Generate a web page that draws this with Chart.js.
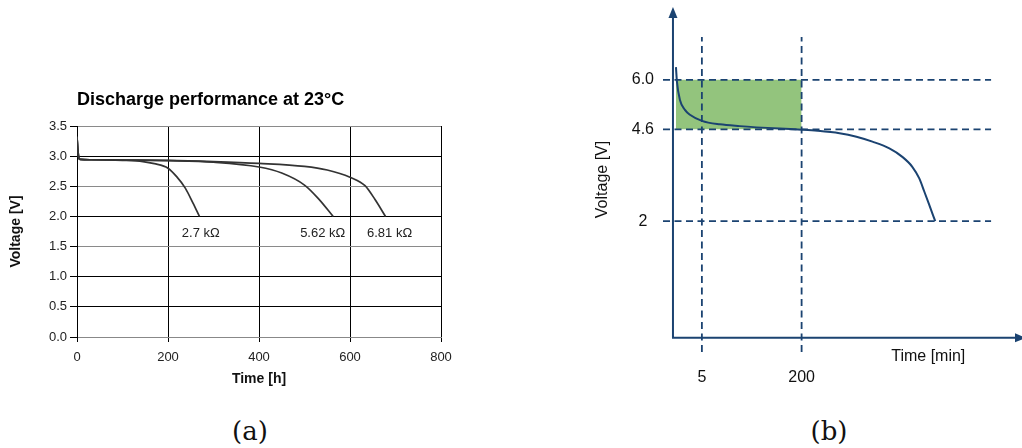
<!DOCTYPE html>
<html>
<head>
<meta charset="utf-8">
<script src="https://cdn.jsdelivr.net/npm/chart.js@4"></script>
<style>
  body { margin: 0; background: #fff; width: 1022px; height: 448px; position: relative; overflow: hidden; }
  .box { position: absolute; top: 0; height: 400px; }
  .cap { position: absolute; top: 416px; font-family: "DejaVu Serif", serif; font-size: 26px; color: #111; transform: translateX(-50%); }
</style>
</head>
<body>
<div class="box" style="left:0;width:480px"><canvas id="chart-a"></canvas></div>
<div class="box" style="left:560px;width:462px"><canvas id="chart-b"></canvas></div>
<div class="cap" style="left:250px">(a)</div>
<div class="cap" style="left:829px">(b)</div>
<script>
// (a) discharge curves, time in h, voltage in V
const time27 = [0, 2, 4, 7, 30, 100, 145, 170, 200, 219, 238, 255, 269]
const volt27 = [3.32, 3.1, 2.97, 2.945, 2.94, 2.93, 2.91, 2.875, 2.80, 2.66, 2.47, 2.22, 2.0]
const time562 = [0, 2, 4, 7, 30, 100, 200, 300, 400, 450, 500, 530, 563]
const volt562 = [3.32, 3.1, 2.97, 2.945, 2.94, 2.935, 2.925, 2.90, 2.82, 2.72, 2.52, 2.30, 2.0]
const time681 = [0, 2, 4, 7, 30, 100, 200, 300, 400, 500, 550, 600, 633, 655, 678]
const volt681 = [3.32, 3.1, 2.97, 2.945, 2.94, 2.935, 2.93, 2.91, 2.88, 2.83, 2.77, 2.65, 2.51, 2.28, 2.0]
const curveNames = ['2.7 kΩ', '5.62 kΩ', '6.81 kΩ']
const nameAt = [[272, 1.72], [540, 1.72], [687, 1.72]]

// (b) schematic, x in arbitrary units along the time axis
const schemT = [3, 4, 7, 12, 17, 29, 47, 67, 107, 129, 145, 167, 184, 200, 217, 230, 240, 247, 252, 257, 263]
const schemV = [6.36, 5.94, 5.43, 5.15, 5.01, 4.84, 4.74, 4.69, 4.62, 4.59, 4.56, 4.49, 4.39, 4.25, 4.06, 3.82, 3.54, 3.21, 2.84, 2.46, 2.0]
const levelV = [6.0, 4.6, 2]
const levelLabels = ['6.0', '4.6', '2']
const markT = [29, 129]
const markLabels = ['5', '200']

const navy = '#1b4371'
const pts = (xs, ys) => xs.map((x, i) => ({ x: x, y: ys[i] }))

const curveStyle = {
  borderColor: '#333',
  borderWidth: 1.7,
  pointRadius: 0,
  cubicInterpolationMode: 'monotone',
  fill: false
}

const gridGrey = [0, 3, 5, 7]   // y grid indices drawn lighter

const namesPlugin = {
  id: 'names',
  afterDatasetsDraw(chart) {
    const ctx = chart.ctx
    ctx.save()
    ctx.font = '13px "Liberation Sans", Arial, sans-serif'
    ctx.fillStyle = '#222'
    ctx.textAlign = 'center'
    ctx.textBaseline = 'middle'
    curveNames.forEach((n, i) => {
      ctx.fillText(n, chart.scales.x.getPixelForValue(nameAt[i][0]), chart.scales.y.getPixelForValue(nameAt[i][1]))
    })
    ctx.restore()
  }
}

new Chart(document.getElementById('chart-a').getContext('2d'), {
  type: 'line',
  data: {
    datasets: [
      Object.assign({ label: curveNames[0], data: pts(time27, volt27) }, curveStyle),
      Object.assign({ label: curveNames[1], data: pts(time562, volt562) }, curveStyle),
      Object.assign({ label: curveNames[2], data: pts(time681, volt681) }, curveStyle)
    ]
  },
  options: {
    responsive: true,
    maintainAspectRatio: false,
    animation: false,
    layout: { padding: { top: 89, right: 39, left: 0, bottom: 0 } },
    plugins: {
      legend: { display: false },
      tooltip: { enabled: false },
      title: {
        display: true,
        text: 'Discharge performance at 23°C',
        align: 'start',
        fullSize: false,
        color: '#000',
        font: { family: '"Liberation Sans", Arial', size: 18, weight: 'bold' },
        padding: { top: 0, bottom: 15.4 }
      }
    },
    scales: {
      x: {
        type: 'linear',
        min: 0,
        max: 800,
        ticks: { stepSize: 200, color: '#222', padding: 8, font: { family: '"Liberation Sans", Arial', size: 13 } },
        grid: { color: '#000', tickLength: 5, tickColor: '#000' },
        border: { color: '#888' },
        title: {
          display: true,
          text: 'Time [h]',
          color: '#111',
          font: { family: '"Liberation Sans", Arial', size: 14, weight: 'bold' },
          padding: { top: 0, bottom: 12.6 }
        },
        afterFit(s) { s.height = 63 }
      },
      y: {
        min: 0,
        max: 3.5,
        ticks: {
          stepSize: 0.5,
          color: '#222',
          padding: 3,
          font: { family: '"Liberation Sans", Arial', size: 13 },
          callback: v => v.toFixed(1)
        },
        grid: {
          color: c => gridGrey.includes(c.index) ? '#8a8a8a' : '#000',
          tickColor: '#000',
          tickLength: 7
        },
        border: { color: '#000' },
        title: {
          display: true,
          text: 'Voltage [V]',
          color: '#111',
          font: { family: '"Liberation Sans", Arial', size: 14, weight: 'bold' },
          padding: { top: 8, bottom: 0 }
        },
        afterFit(s) { s.width = 77 }
      }
    }
  },
  plugins: [namesPlugin]
});

// (b)
const axisPlugin = {
  id: 'axes',
  afterDatasetsDraw(chart) {
    const ctx = chart.ctx
    const x = chart.scales.x, y = chart.scales.y
    const x0 = x.getPixelForValue(0)
    const y0 = y.getPixelForValue(-1.3)
    const yTop = y.getPixelForValue(y.max)
    const xEnd = x.getPixelForValue(x.max) + 4
    ctx.save()
    ctx.strokeStyle = navy
    ctx.fillStyle = navy
    ctx.lineWidth = 2
    ctx.beginPath()
    ctx.moveTo(x0, yTop + 8)
    ctx.lineTo(x0, y0)
    ctx.lineTo(xEnd - 8, y0)
    ctx.stroke()
    ctx.beginPath()
    ctx.moveTo(x0, yTop)
    ctx.lineTo(x0 - 4.5, yTop + 11)
    ctx.lineTo(x0 + 4.5, yTop + 11)
    ctx.closePath()
    ctx.fill()
    ctx.beginPath()
    ctx.moveTo(xEnd, y0)
    ctx.lineTo(xEnd - 11, y0 - 4.5)
    ctx.lineTo(xEnd - 11, y0 + 4.5)
    ctx.closePath()
    ctx.fill()
    ctx.font = '16px "Liberation Sans", Arial, sans-serif'
    ctx.fillStyle = '#111'
    ctx.textAlign = 'center'
    ctx.textBaseline = 'middle'
    ctx.fillText('Time [min]', x.getPixelForValue(256), y0 + 19)
    ctx.restore()
  }
}

const dashStyle = { borderColor: navy, borderWidth: 1.8, borderDash: [7, 4.5], pointRadius: 0, fill: false }

const dashSets = []
levelV.forEach(v => dashSets.push(Object.assign({ data: [{ x: -10, y: v }, { x: 319, y: v }] }, dashStyle)))
markT.forEach(t => dashSets.push(Object.assign({ data: [{ x: t, y: -1.7 }, { x: t, y: 7.21 }] }, dashStyle)))

new Chart(document.getElementById('chart-b').getContext('2d'), {
  type: 'line',
  data: {
    datasets: [
      { data: pts(schemT, schemV), borderColor: navy, borderWidth: 2, pointRadius: 0, cubicInterpolationMode: 'monotone', fill: false }
    ].concat(dashSets, [
      { data: [{ x: 3, y: levelV[0] }, { x: markT[1], y: levelV[0] }], borderWidth: 0, pointRadius: 0, backgroundColor: '#93c47d', fill: { value: levelV[1] } }
    ])
  },
  options: {
    responsive: true,
    maintainAspectRatio: false,
    animation: false,
    layout: { padding: { top: 7, right: 0, left: 33.4, bottom: 0 } },
    plugins: { legend: { display: false }, tooltip: { enabled: false } },
    scales: {
      x: {
        type: 'linear',
        min: -12,
        max: 350,
        afterBuildTicks(s) { s.ticks = markT.map(v => ({ value: v })) },
        ticks: {
          autoSkip: false,
          maxRotation: 0,
          color: '#111',
          padding: 8,
          font: { family: '"Liberation Sans", Arial', size: 16 },
          callback: (v, i) => markLabels[i]
        },
        grid: { display: false },
        border: { display: false },
        afterFit(s) { s.height = 48; s.paddingLeft = 0; s.paddingRight = 0 }
      },
      y: {
        min: -1.7,
        max: 8.06,
        afterBuildTicks(s) { s.ticks = levelV.slice().reverse().map(v => ({ value: v })) },
        ticks: {
          autoSkip: false,
          color: '#111',
          padding: 7,
          crossAlign: 'center',
          font: { family: '"Liberation Sans", Arial', size: 16 },
          callback: (v, i) => levelLabels.slice().reverse()[i]
        },
        grid: { display: false, drawTicks: false },
        border: { display: false },
        title: {
          display: true,
          text: 'Voltage [V]',
          color: '#111',
          font: { family: '"Liberation Sans", Arial', size: 16 },
          padding: { top: 0, bottom: 0 }
        },
        afterFit(s) { s.width = 67.6; s.paddingTop = 0; s.paddingBottom = 0 }
      }
    }
  },
  plugins: [axisPlugin]
});
</script>
</body>
</html>
